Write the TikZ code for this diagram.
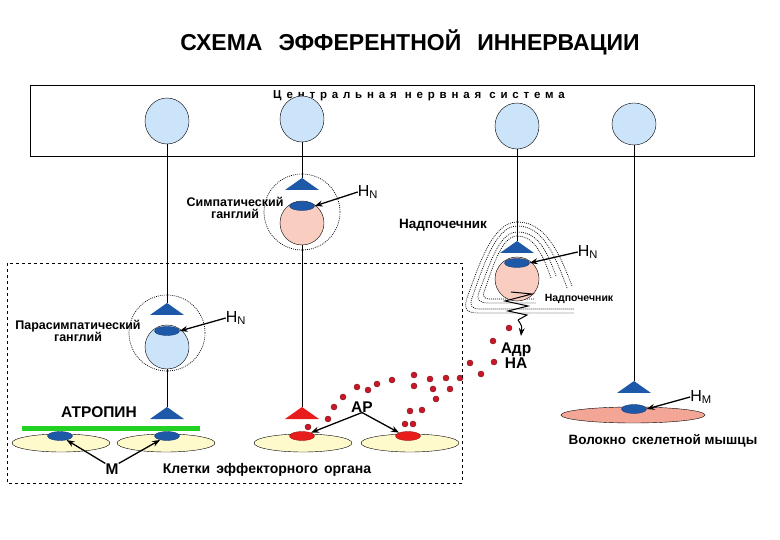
\documentclass[tikz,border=0pt]{standalone}
\usepackage{fontspec}
\setmainfont{Liberation Sans}
\usetikzlibrary{arrows.meta,shapes.geometric}

\definecolor{somablue}{RGB}{204,228,250}
\definecolor{somapink}{RGB}{249,206,192}
\definecolor{termblue}{RGB}{30,88,168}
\definecolor{termred}{RGB}{232,28,28}
\definecolor{cellyellow}{RGB}{255,250,204}
\definecolor{musclepink}{RGB}{244,166,150}
\definecolor{dotred}{RGB}{200,24,40}
\definecolor{atrgreen}{RGB}{34,210,34}

\tikzset{
  soma/.style={ellipse, draw, fill=somablue, minimum width=44pt, minimum height=46pt, inner sep=0pt},
  gsoma/.style={circle, draw, minimum size=44pt, inner sep=0pt},
  sheath/.style={line width=0.7pt, dash pattern=on 0.9pt off 1.1pt},
  halo/.style={circle, draw, sheath, minimum size=76pt, inner sep=0pt},
  rec/.style={ellipse, fill=termblue, draw=termblue!70!black, minimum width=25pt, minimum height=9pt, inner sep=0pt},
  cell/.style={ellipse, draw, fill=cellyellow, minimum width=98pt, minimum height=18pt, inner sep=0pt},
  drop/.style={circle, fill=dotred, draw=dotred!60!black, minimum size=6pt, inner sep=0pt},
  lbl/.style={font=\bfseries\fontsize{12.5}{12}\selectfont, align=center, inner sep=0pt},
  big/.style={font=\bfseries\fontsize{15.5}{13}\selectfont, align=center, inner sep=0pt},
  hn/.style={font=\fontsize{16}{16}\selectfont, inner sep=0pt},
  ptr/.style={-{Stealth[length=8pt,width=6pt]}, line width=1.3pt}
}

% nerve ending (triangle, apex at #1)
\newcommand\synapse[2]{\fill[#2] (#1) -- ++(17,12) -- ++(-34,0) -- cycle;}

\begin{document}
\begin{tikzpicture}[x=1pt, y=-1pt]
  \useasboundingbox (0,0) rectangle (780,540);

  % Заголовок
  \node[font=\bfseries\fontsize{23}{23}\selectfont] (title) at (410,42)
    {СХЕМА\hspace{16pt}ЭФФЕРЕНТНОЙ\hspace{16pt}ИННЕРВАЦИИ};

  % ЦНС
  \draw (30,85) rectangle (754,156);
  \node[font=\bfseries\fontsize{11.5}{11}\selectfont\addfontfeature{LetterSpace=42}] (cns) at (419,96)
    {Центральная\hspace{8pt}нервная\hspace{8pt}система};
  \node[soma] (n1) at (167,121) {};
  \node[soma] (n2) at (302,119) {};
  \node[soma] (n3) at (517,126) {};
  \node[soma, minimum height=42pt] (n4) at (634,124) {};

  % Парасимпатический ганглий
  \coordinate (t1) at (167,303);
  \node[halo] (g1) at (167,333) {};
  \node[gsoma, fill=somablue] (p1) at (167,347) {};
  \node[rec] (r1) at (167,331) {};
  \coordinate (t1b) at (167,407);
  \draw (n1) -- (t1);
  \draw (p1) -- (t1b);
  \synapse{t1}{termblue}
  \synapse{t1b}{termblue}
  \node[lbl] (para) at (78,331) {Парасимпатический\\ганглий};
  \node[hn] (hn1) at (236,318) {Н\textsubscript{N}};
  \draw[ptr] (hn1.west) -- (r1.east);

  % Симпатический ганглий
  \coordinate (t2) at (302,178);
  \node[halo] (g2) at (302,212) {};
  \node[gsoma, fill=somapink] (p2) at (302,223) {};
  \node[rec] (r2) at (302,206) {};
  \coordinate (t2b) at (302,407);
  \draw (n2) -- (t2);
  \draw (p2) -- (t2b);
  \synapse{t2}{termblue}
  \synapse{t2b}{termred}
  \node[lbl] (symp) at (235,208) {Симпатический\\ганглий};
  \node[hn] (hn2) at (368,192) {Н\textsubscript{N}};
  \draw[ptr] (hn2.west) -- (r2.east);

  % Надпочечник
  \draw[sheath] (572,286) .. controls (555,240) and (540,222) .. (517,222)
    .. controls (492,222) and (478,268) .. (467,298) .. controls (463,310) and (468,313) .. (478,313) -- (574,313);
  \draw[sheath] (567,288) .. controls (551,243) and (538,226) .. (517,226)
    .. controls (495,226) and (482,270) .. (472,298) .. controls (469,306) and (472,309) .. (480,309) -- (574,309);
  \draw[sheath] (556,276) .. controls (545,245) and (535,232) .. (517,232)
    .. controls (498,232) and (488,270) .. (479,292) .. controls (476,300) and (480,303) .. (488,303) -- (536,303);
  \draw[sheath] (551,278) .. controls (541,249) and (532,236) .. (517,236)
    .. controls (501,236) and (492,270) .. (484,292) .. controls (482,297) and (485,299) .. (490,299) -- (534,299);
  \coordinate (t3) at (517,241);
  \node[gsoma, fill=somapink] (p3) at (517,279) {};
  \node[rec] (r3) at (517,263) {};
  \draw (n3) -- (t3);
  \synapse{t3}{termblue}
  \coordinate (sp) at (521,336);
  \draw[line width=1pt] (511,292) -- (532,294) -- (505,301) -- (528,306) -- (508,311) -- (527,315) -- (518,320);
  \draw[ptr, line width=1pt] (518,320) .. controls (522,326) .. (sp);
  \node[font=\bfseries\fontsize{13.5}{13}\selectfont, inner sep=0pt] (adr) at (443,225) {Надпочечник};
  \node[font=\bfseries\fontsize{10.5}{10}\selectfont, inner sep=0pt] (adr2) at (579,299) {Надпочечник};
  \node[hn] (hn3) at (588,252) {Н\textsubscript{N}};
  \draw[ptr] (hn3.west) -- (r3.east);
  \node[big] (adrna) at (516,356) {Адр\\НА};

  % Медиатор
  \foreach \p in {(509,328),(493,341),(494,362),(481,374),(470,363),(460,378),
                  (446,378),(450,389),(430,379),(433,389),(414,375),(414,386),
                  (436,399),(422,410),(410,411),(405,424),(413,424),(392,380),
                  (377,384),(368,390),(357,387),(343,397),(334,407),(328,419),(308,427)}
    \node[drop] at \p {};

  % Клетки эффекторного органа
  \draw[dashed] (7,263) rectangle (462,483);
  \node[cell] (c1) at (61,443) {};
  \node[cell] (c2) at (166,443) {};
  \node[cell] (c3) at (303,443) {};
  \node[cell] (c4) at (410,443) {};
  \node[rec] (m1) at (60,436) {};
  \node[rec] (m2) at (167,436) {};
  \node[rec, fill=termred, draw=termred!70!black] (a1) at (302,436) {};
  \node[rec, fill=termred, draw=termred!70!black] (a2) at (408,436) {};
  \draw[atrgreen, line width=5pt] (22,428) -- (200,428);
  \node[big] (atr) at (99,412) {АТРОПИН};
  \node[big] (m) at (112,469) {М};
  \draw[ptr] (m.north west) -- (m1);
  \draw[ptr] (m.north east) -- (m2);
  \node[big] (ap) at (362,407) {АР};
  \draw[ptr] (ap.south) -- (a1.north east);
  \draw[ptr] (ap.south) -- (a2.north west);
  \node[font=\bfseries\fontsize{14}{14}\selectfont, inner sep=0pt] (eff) at (267,470)
    {Клетки\hspace{6pt}эффекторного\hspace{6pt}органа};

  % Скелетная мышца
  \coordinate (t4) at (634,381);
  \node[ellipse, draw, fill=musclepink, minimum width=144pt, minimum height=16pt, inner sep=0pt] (mf) at (633,415) {};
  \node[rec] (r4) at (634,409) {};
  \draw (n4) -- (t4);
  \synapse{t4}{termblue}
  \node[hn] (hm) at (701,397) {Н\textsubscript{M}};
  \draw[ptr] (hm.west) -- (r4.east);
  \node[font=\bfseries\fontsize{13.5}{14}\selectfont, inner sep=0pt] (mus) at (663,441)
    {Волокно\hspace{6pt}скелетной мышцы};
\end{tikzpicture}
\end{document}
